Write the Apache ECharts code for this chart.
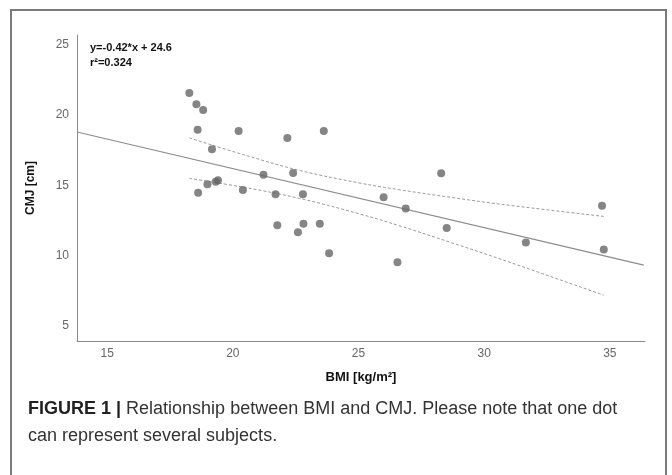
<!DOCTYPE html>
<html>
<head>
<meta charset="utf-8">
<script src="https://cdn.jsdelivr.net/npm/echarts@6/dist/echarts.min.js"></script>
<style>
  body { margin: 0; background: #fff; }
  #frame {
    position: absolute; left: 10px; top: 9px; width: 657px; height: 480px;
    border: 2px solid #7a7a7a; border-bottom: none; box-sizing: border-box;
  }
  #echarts { position: absolute; left: 0; top: 0; width: 672px; height: 475px; }
  #caption {
    position: absolute; left: 28px; top: 395px; width: 640px;
    font-family: "Liberation Sans", Arial, sans-serif; font-size: 18px;
    line-height: 27px; color: #333; white-space: nowrap;
  }
  #caption b { color: #222; }
</style>
</head>
<body>
<div id="frame"></div>
<div id="echarts"></div>
<div id="caption"><b>FIGURE 1 |</b> Relationship between BMI and CMJ. Please note that one dot<br>can represent several subjects.</div>
<script>
// BMI / CMJ punkte
const bmi = [18.27, 18.55, 18.82, 18.60, 20.23, 19.17, 22.17, 23.62, 21.22, 22.40,
  18.99, 19.32, 19.41, 18.62, 20.40, 21.70, 22.79, 21.77, 22.81, 23.46,
  22.59, 23.83, 28.29, 26.00, 26.88, 28.51, 26.55, 34.69, 31.66, 34.76]
const cmj = [21.57, 20.77, 20.37, 18.97, 18.88, 17.57, 18.38, 18.88, 15.76, 15.89,
  15.09, 15.26, 15.38, 14.48, 14.67, 14.38, 14.38, 12.18, 12.28, 12.28,
  11.67, 10.18, 15.87, 14.16, 13.37, 11.97, 9.54, 13.56, 10.94, 10.44]

// regressionsgerade y=-0.42x+24.6
const fitX = [13.8, 36.35]
const fitY = [18.80, 9.33]

// konfidenzband
const bandX = [18.27, 20.5, 22.68, 25.06, 26.69, 28.7, 30.69, 34.76]
const upperY = [18.38, 17.15, 16.06, 15.17, 14.68, 14.15, 13.66, 12.80]
const lowerY = [15.50, 14.85, 14.07, 12.97, 12.10, 10.93, 9.74, 7.20]

const xTicks = [15, 20, 25, 30, 35]
const yTicks = [5, 10, 15, 20, 25]

function zip(a, b) {
  return a.map((v, i) => [v, b[i]])
}

const chart = echarts.init(document.getElementById('echarts'))
const labelFont = '"Liberation Sans", Arial, sans-serif'

chart.setOption({
  animation: false,
  grid: { left: 77, top: 35, right: 27, bottom: 134 },
  xAxis: {
    type: 'value', min: 13.8, max: 36.4,
    name: 'BMI [kg/m²]', nameLocation: 'middle', nameGap: 30,
    nameTextStyle: { fontFamily: labelFont, fontWeight: 'bold', fontSize: 13, color: '#111' },
    axisLine: { lineStyle: { color: '#8a8a8a', width: 1 } },
    axisTick: { show: false },
    splitLine: { show: false },
    axisLabel: { customValues: xTicks, color: '#666', fontSize: 12, fontFamily: labelFont, margin: 7 }
  },
  yAxis: {
    type: 'value', min: 3.94, max: 25.7,
    name: 'CMJ [cm]', nameLocation: 'middle', nameGap: 40, nameRotate: 90,
    nameTextStyle: { fontFamily: labelFont, fontWeight: 'bold', fontSize: 12, color: '#111' },
    axisLine: { show: true, lineStyle: { color: '#8a8a8a', width: 1 } },
    axisTick: { show: false },
    splitLine: { show: false },
    axisLabel: { customValues: yTicks, color: '#666', fontSize: 12, fontFamily: labelFont, margin: 8 }
  },
  graphic: [{
    type: 'text', left: 90, top: 40,
    style: {
      text: 'y=-0.42*x + 24.6\nr²=0.324',
      font: 'bold 11px ' + labelFont, fill: '#111', lineHeight: 15
    }
  }],
  series: [
    {
      type: 'line', data: zip(fitX, fitY), symbol: 'none',
      lineStyle: { color: '#8c8c8c', width: 1.2 }, z: 2
    },
    {
      type: 'line', data: zip(bandX, upperY), symbol: 'none', smooth: 0.4,
      lineStyle: { color: '#999', width: 1, type: [3, 2] }, z: 2
    },
    {
      type: 'line', data: zip(bandX, lowerY), symbol: 'none', smooth: 0.4,
      lineStyle: { color: '#999', width: 1, type: [3, 2] }, z: 2
    },
    {
      type: 'scatter', data: zip(bmi, cmj), symbolSize: 8,
      itemStyle: { color: '#676767' }, z: 3
    }
  ]
})
</script>
</body>
</html>
